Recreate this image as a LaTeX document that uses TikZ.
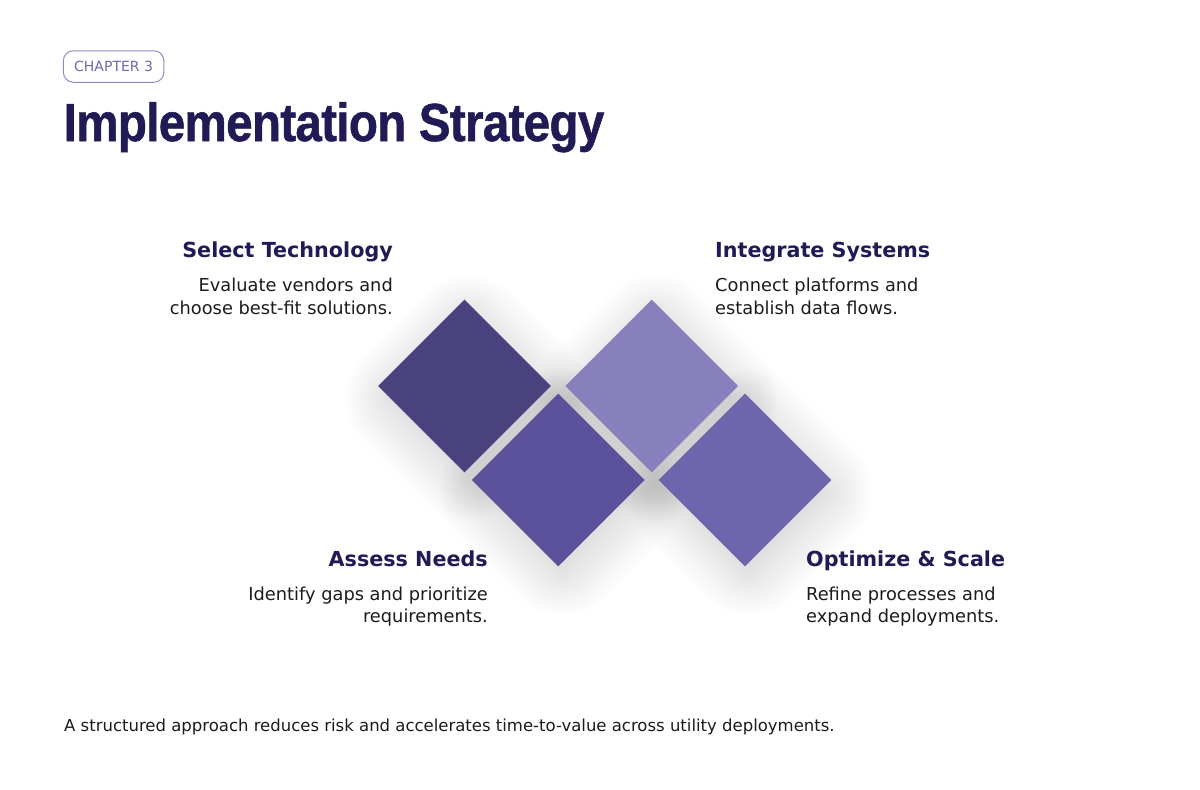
\documentclass[tikz,border=0pt]{standalone}
\usepackage{fontspec}
\setmainfont{DejaVu Sans}
\newfontfamily\titlefont[FakeBold=1.0,LetterSpace=-1.5]{Liberation Sans Bold}
\usetikzlibrary{shapes.geometric}
\definecolor{navy}{HTML}{201A55}
\definecolor{bodytxt}{HTML}{1C1C1C}
\definecolor{badgeline}{HTML}{8F89C4}
\definecolor{badgetxt}{HTML}{6F68AB}
\definecolor{dA}{HTML}{4A427E}
\definecolor{dB}{HTML}{5B529B}
\definecolor{dC}{HTML}{8880BC}
\definecolor{dD}{HTML}{6E66AD}
\newcommand\myshadow[2]{%
  \foreach \k in {0,2.5,...,80} {
    \pgfmathsetmacro\r{70+\k}
    \pgfmathsetmacro\c{max(0.5,0.9*(\r-80))}
    \fill[black,opacity=0.0029,rounded corners=\c pt] (#1+4,#2+12-\r) -- (#1+4+\r,#2+12) -- (#1+4,#2+12+\r) -- (#1+4-\r,#2+12) -- cycle;
  }}
\tikzset{
  dia/.style={diamond, aspect=1, inner sep=0pt, minimum width=173pt, minimum height=173pt, draw=none},
  head/.style={inner sep=0pt, text=navy, font=\bfseries\fontsize{20.7}{24}\selectfont},
  bodyline/.style={inner sep=0pt, text=bodytxt, font=\fontsize{17.8}{21}\selectfont},
}
\begin{document}
\begin{tikzpicture}[x=1pt,y=-1pt]
\fill[white] (0,0) rectangle (1200,790);
\useasboundingbox (0,0) rectangle (1200,790);

% badge
\node[draw=badgeline, line width=1pt, rounded corners=10pt, minimum width=100.5pt, minimum height=31.5pt, inner sep=0pt,
      text=badgetxt, font=\fontsize{14}{16}\selectfont] (badge) at (113.6,66.5) {CHAPTER 3};

% title
\node[inner sep=0pt, anchor=base west, text=navy] (title) at (63.5,141)
  {\scalebox{0.89}[1]{\titlefont\fontsize{53.5}{60}\selectfont Implementation Strategy}};

% shadows
\myshadow{464.5}{386}
\myshadow{651.7}{386}
\myshadow{558.3}{480}
\myshadow{745}{480}

% diamonds
\node[dia, fill=dA] (d1) at (464.5,386) {};
\node[dia, fill=dC] (d3) at (651.7,386) {};
\node[dia, fill=dB] (d2) at (558.3,480) {};
\node[dia, fill=dD] (d4) at (745,480) {};

% Select Technology
\node[head, anchor=base east] (h1) at (393,257) {Select Technology};
\node[bodyline, anchor=base east] (b1a) at (393,291.5) {Evaluate vendors and};
\node[bodyline, anchor=base east] (b1b) at (393,314) {choose best-fit solutions.};

% Integrate Systems
\node[head, anchor=base west] (h3) at (715,257) {Integrate Systems};
\node[bodyline, anchor=base west] (b3a) at (715,291.5) {Connect platforms and};
\node[bodyline, anchor=base west] (b3b) at (715,314) {establish data flows.};

% Assess Needs
\node[head, anchor=base east] (h2) at (488,566) {Assess Needs};
\node[bodyline, anchor=base east] (b2a) at (488,600.5) {Identify gaps and prioritize};
\node[bodyline, anchor=base east] (b2b) at (488,622.5) {requirements.};

% Optimize & Scale
\node[head, anchor=base west] (h4) at (806,566) {Optimize \& Scale};
\node[bodyline, anchor=base west] (b4a) at (806,600.5) {Refine processes and};
\node[bodyline, anchor=base west] (b4b) at (806,622.5) {expand deployments.};

% footer
\node[inner sep=0pt, anchor=base west, text=bodytxt, font=\fontsize{16.5}{19}\selectfont] (foot) at (64,731.5)
  {A structured approach reduces risk and accelerates time-to-value across utility deployments.};
\end{tikzpicture}
\end{document}
